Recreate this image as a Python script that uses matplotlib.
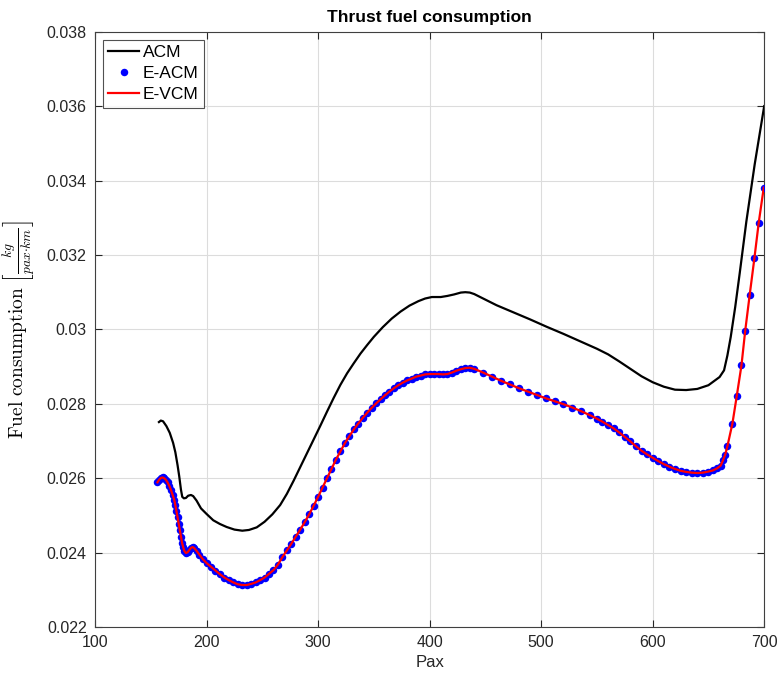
import matplotlib
matplotlib.use("Agg")
import matplotlib.pyplot as plt
from matplotlib.ticker import FuncFormatter

# ACM curve
acm_pax = [157.3, 159, 161, 164, 167, 170, 172, 174, 175.5, 177, 178.2, 179.7, 181.5,
           183.5, 186, 188, 191, 195, 200, 206, 212, 218, 225, 232, 238, 245, 252, 259,
           266, 272, 278, 284, 290, 296, 302, 308, 314, 320, 326, 332, 338, 344, 350,
           358, 366, 374, 382, 390, 396, 402, 410, 416, 422, 428, 432, 436, 440, 450,
           460, 475, 490, 505, 520, 535, 550, 560, 570, 580, 590, 600, 610, 620, 630,
           640, 650, 660, 664, 667, 670, 674, 678, 684, 691.5, 700]
acm_fuel = [0.02751, 0.02755, 0.02753, 0.02740, 0.02722, 0.02695, 0.02670, 0.02635,
            0.02605, 0.02570, 0.02550, 0.02546, 0.02547, 0.02553, 0.02555, 0.02552,
            0.02540, 0.02519, 0.02504, 0.02487, 0.02477, 0.02469, 0.02462, 0.02459,
            0.02461, 0.02468, 0.02483, 0.02503, 0.02528, 0.02558, 0.02593, 0.02630,
            0.02667, 0.02704, 0.02741, 0.02779, 0.02816, 0.02851, 0.02882, 0.02909,
            0.02935, 0.02958, 0.02980, 0.03006, 0.03029, 0.03048, 0.03064, 0.03076,
            0.03083, 0.03087, 0.03087, 0.03090, 0.03094, 0.03099, 0.03100, 0.03099,
            0.03095, 0.03080, 0.03065, 0.03046, 0.03027, 0.03007, 0.02988, 0.02968,
            0.02948, 0.02933, 0.02914, 0.02894, 0.02874, 0.02858, 0.02846, 0.02838,
            0.02837, 0.02840, 0.02850, 0.02872, 0.02890, 0.02930, 0.02980, 0.03060,
            0.03150, 0.03290, 0.03444, 0.03600]

# E-ACM / E-VCM samples
e_pax = [156.0, 157.5, 159.0, 160.5, 162.0, 163.5, 165.0, 166.5, 168.0, 169.5, 171.0,
         172.0, 173.0, 174.0, 175.0, 176.0, 177.0, 178.0, 179.0, 180.0, 181.5, 183.0,
         184.5, 186.0, 187.5, 189.0, 191.0, 193.5, 196.5, 200, 204, 208, 212, 216, 220,
         224, 228, 232, 236, 240, 244, 248, 252, 256, 260, 264, 268, 272, 276, 280, 284,
         288, 292, 296, 300, 304, 308, 312, 316, 320, 324, 328, 332, 336, 340, 344, 348,
         352, 356, 360, 364, 368, 372, 376, 380, 384, 388, 392, 396, 400, 404, 408, 412,
         416, 420, 424, 428, 432, 436, 440, 448, 456, 464, 472, 480, 488, 496, 504, 512,
         520, 528, 536, 544, 550, 555, 560, 565, 570, 575, 580, 585, 590, 595, 600, 605,
         610, 615, 620, 625, 630, 635, 640, 645, 650, 654, 658, 661, 663, 665, 667,
         671.5, 675.4, 679.6, 683.0, 687.0, 691.2, 695.1, 699.6]
e_fuel = [0.02589, 0.02596, 0.02601, 0.02602, 0.02600, 0.02596, 0.02589, 0.02580,
          0.02569, 0.02556, 0.02542, 0.02528, 0.02512, 0.02495, 0.02478, 0.02460,
          0.02443, 0.02427, 0.02415, 0.02405, 0.02399, 0.02401, 0.02407, 0.02413,
          0.02415, 0.02412, 0.02405, 0.02395, 0.02383, 0.02372, 0.02362, 0.02352,
          0.02342, 0.02333, 0.02326, 0.02320, 0.02315, 0.02313, 0.02313, 0.02316,
          0.02320, 0.02326, 0.02333, 0.02343, 0.02353, 0.02368, 0.02388, 0.02406,
          0.02424, 0.02443, 0.02462, 0.02482, 0.02503, 0.02526, 0.02550, 0.02575,
          0.02600, 0.02625, 0.02650, 0.02672, 0.02694, 0.02713, 0.02731, 0.02747,
          0.02762, 0.02776, 0.02789, 0.02801, 0.02812, 0.02823, 0.02833, 0.02842,
          0.02850, 0.02857, 0.02863, 0.02868, 0.02873, 0.02876, 0.02879, 0.02880,
          0.02880, 0.02880, 0.02879, 0.02880, 0.02884, 0.02889, 0.02893, 0.02896,
          0.02897, 0.02894, 0.02884, 0.02873, 0.02862, 0.02852, 0.02842, 0.02833,
          0.02824, 0.02815, 0.02807, 0.02799, 0.02790, 0.02780, 0.02769, 0.02760,
          0.02752, 0.02743, 0.02734, 0.02723, 0.02711, 0.02699, 0.02686, 0.02674,
          0.02664, 0.02655, 0.02646, 0.02638, 0.02631, 0.02625, 0.02620, 0.02617,
          0.02615, 0.02614, 0.02615, 0.02618, 0.02621, 0.02627, 0.02634, 0.02648,
          0.02663, 0.02686, 0.02747, 0.02821, 0.02903, 0.02997, 0.03093, 0.03191,
          0.03287, 0.03381]

x_ticks = [100, 200, 300, 400, 500, 600, 700]
y_ticks = [0.022, 0.024, 0.026, 0.028, 0.030, 0.032, 0.034, 0.036, 0.038]

plt.rcParams['font.family'] = ['Liberation Sans', 'DejaVu Sans']
plt.rcParams['mathtext.fontset'] = 'cm'

fig = plt.figure(figsize=(7.79, 6.75), dpi=100)
ax = fig.add_axes([0.122, 0.071, 0.859, 0.882])

axis_col = '#262626'
ax.plot(acm_pax, acm_fuel, color='black', lw=1.6, label='ACM', zorder=3)
ax.plot(e_pax, e_fuel, linestyle='none', marker='o', ms=5.4, mfc='blue', mec='blue',
        mew=0, label='E-ACM', zorder=4)
ax.plot(e_pax, e_fuel, color='red', lw=1.6, label='E-VCM', zorder=5)

ax.set_xlim(100, 700)
ax.set_ylim(0.022, 0.038)
ax.set_xticks(x_ticks)
ax.set_yticks(y_ticks)
ax.yaxis.set_major_formatter(FuncFormatter(lambda v, p: f'{v:g}'))
ax.grid(True, color='#dcdcdc', lw=0.8)
ax.set_axisbelow(True)
ax.tick_params(direction='in', top=True, right=True, length=5, width=0.8,
               labelsize=11.5, colors=axis_col, pad=6)
for s in ax.spines.values():
    s.set_color('#404040')
    s.set_linewidth(0.8)

ax.set_title('Thrust fuel consumption', fontsize=12.5, fontweight='bold', pad=7)
ax.set_xlabel('Pax', fontsize=12, color=axis_col, labelpad=3)
ax.set_ylabel(r'$\mathrm{Fuel\ consumption}\ \left[\frac{kg}{pax{\cdot}km}\right]$',
              fontsize=14, labelpad=6)

leg = ax.legend(loc='upper left', fontsize=12.5, frameon=True, fancybox=False,
                handlelength=1.8, handletextpad=0.2, borderpad=0.3, labelspacing=0.35,
                borderaxespad=0.45, edgecolor=axis_col)
leg.get_frame().set_linewidth(0.8)

fig.savefig('out.png', dpi=100)
